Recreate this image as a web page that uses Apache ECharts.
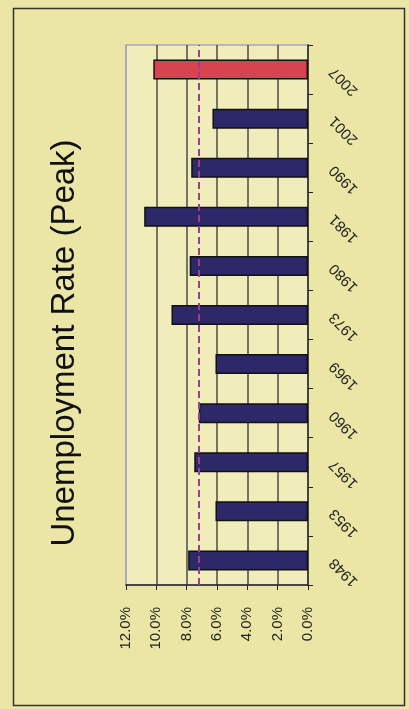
<!DOCTYPE html>
<html>
<head>
<meta charset="utf-8">
<script src="https://cdn.jsdelivr.net/npm/echarts@6/dist/echarts.min.js"></script>
<style>
html,body{margin:0;padding:0;background:#ebe6a6;}
#c{width:409px;height:709px;}
</style>
</head>
<body>
<div id="c"></div>
<script>
var years = ['1948','1953','1957','1960','1969','1973','1980','1981','1990','2001','2007'];
var peaks = [7.9, 6.1, 7.5, 7.2, 6.1, 9.0, 7.8, 10.8, 7.7, 6.3, 10.2];
var highlightYear = '2007';
var averageLine = 7.2;
var valueTicks = [0, 2, 4, 6, 8, 10, 12];
var titleText = 'Unemployment Rate (Peak)';

var chart = echarts.init(document.getElementById('c'));
var barData = peaks.map(function (v, i) {
  return {
    value: v,
    itemStyle: { color: years[i] === highlightYear ? '#d8434f' : '#2d2868' }
  };
});
chart.setOption({
  backgroundColor: '#ebe6a6',
  animation: false,
  graphic: [
    { type: 'rect', left: 11, top: 6, shape: { width: 391, height: 697 },
      style: { fill: 'none', stroke: '#333', lineWidth: 1.5 }, silent: true },
    { type: 'text', x: 65, y: 343, rotation: Math.PI / 2,
      style: { text: titleText, fontSize: 33, fontFamily: 'Liberation Sans, Arial, sans-serif',
               fill: '#111', align: 'center', verticalAlign: 'middle' } }
  ],
  grid: { left: 126, right: 101, top: 45, bottom: 124, show: true,
          backgroundColor: '#f0edbb', borderColor: '#a9a5bd', borderWidth: 1.5 },
  xAxis: {
    type: 'value', inverse: true, min: valueTicks[0], max: valueTicks[valueTicks.length - 1], interval: 2,
    position: 'bottom',
    axisLine: { show: true, lineStyle: { color: '#222', width: 1.5 } },
    axisTick: { show: true, length: 5, lineStyle: { color: '#222' } },
    splitLine: { show: true, lineStyle: { color: ['#a9a5bd','#4a4a4a','#4a4a4a','#4a4a4a','#4a4a4a','#4a4a4a','#a9a5bd'], width: 1.5 } },
    axisLabel: { rotate: 90, margin: 22, fontSize: 15, color: '#222',
                 fontFamily: 'Liberation Sans, Arial, sans-serif',
                 formatter: function (v) { return v.toFixed(1) + '%'; } }
  },
  yAxis: {
    type: 'category', data: years, position: 'right',
    axisLine: { show: true, lineStyle: { color: '#222', width: 1.5 } },
    axisTick: { show: true, length: 5, alignWithLabel: false, lineStyle: { color: '#222' } },
    axisLabel: { rotate: 135, margin: 24, fontSize: 15, color: '#222', align: 'right',
                 verticalAlign: 'middle', fontFamily: 'Liberation Sans, Arial, sans-serif' }
  },
  series: [{
    type: 'bar', data: barData, barWidth: 20,
    itemStyle: { borderColor: '#111', borderWidth: 1.5 },
    markLine: {
      silent: true, symbol: 'none', label: { show: false },
      lineStyle: { color: '#9a3f8f', width: 2, type: [7, 4] },
      data: [{ xAxis: averageLine }]
    }
  }]
});
</script>
</body>
</html>
